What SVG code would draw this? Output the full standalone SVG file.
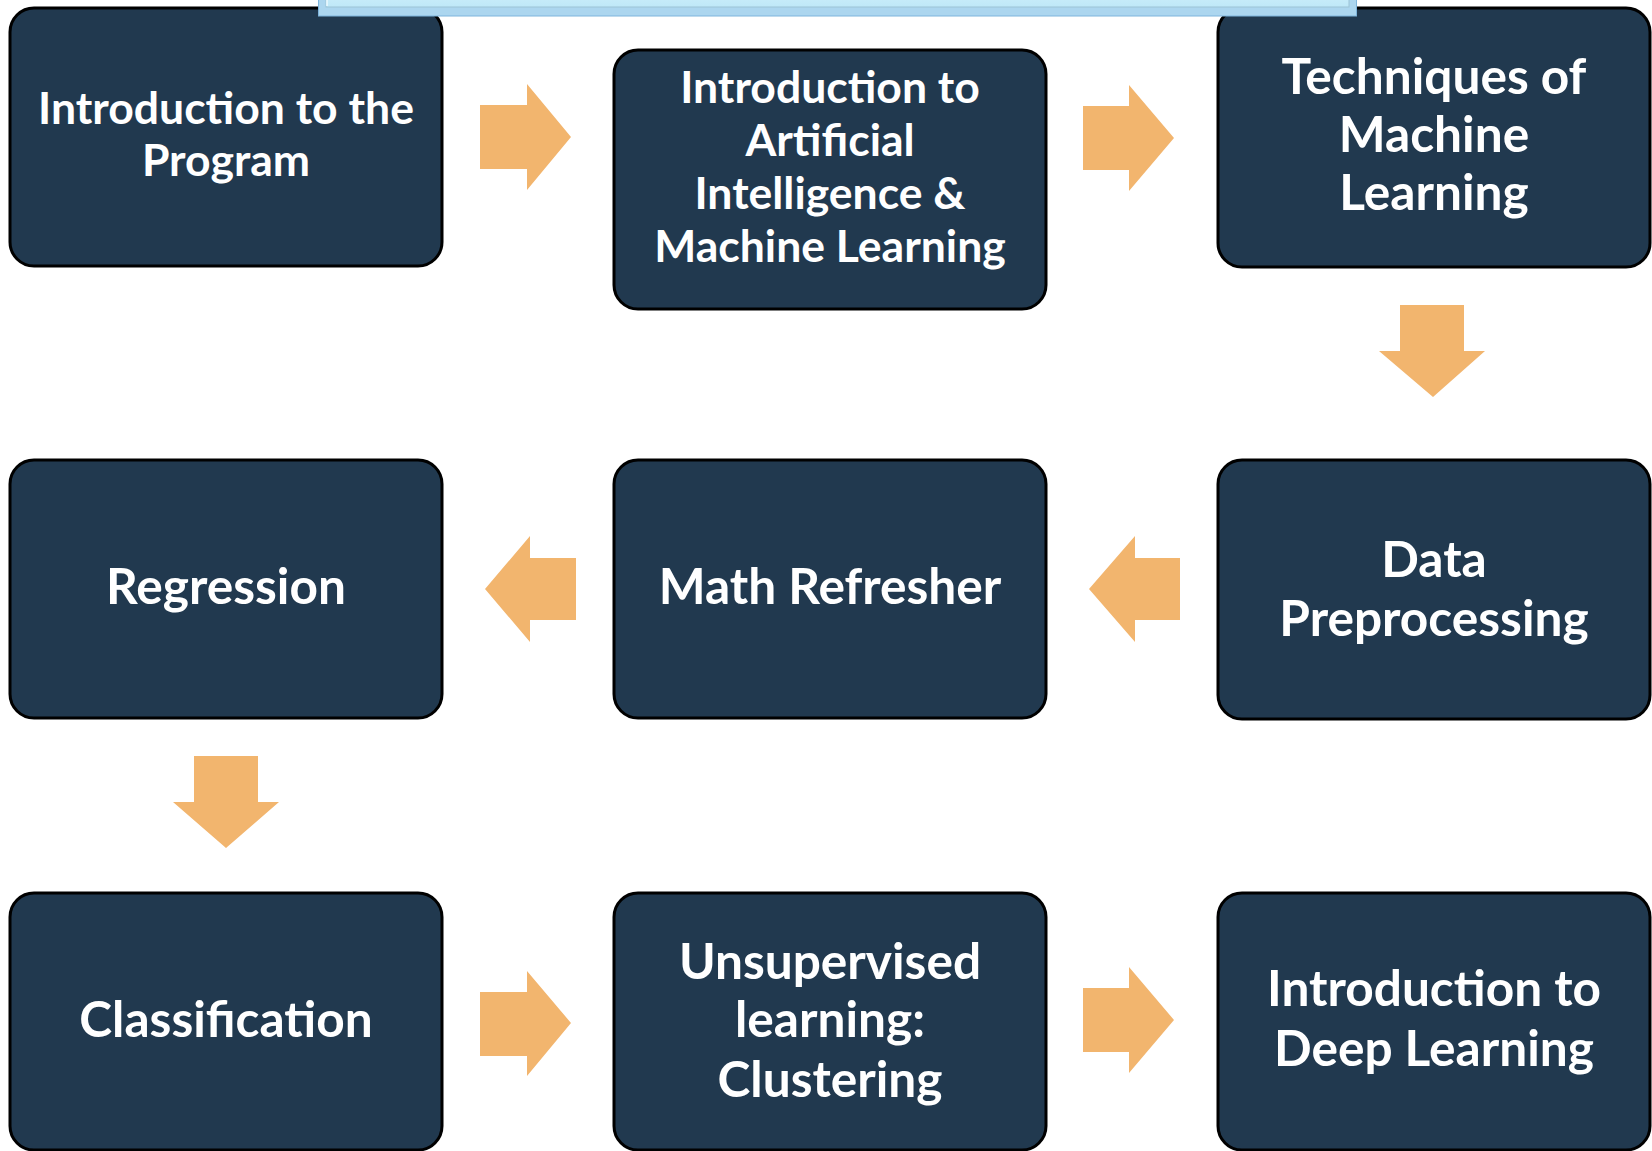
<svg xmlns="http://www.w3.org/2000/svg" width="1652" height="1151" viewBox="0 0 1652 1151">
<defs>
<linearGradient id="panel" x1="0" y1="0" x2="0" y2="1">
<stop offset="0" stop-color="#d8f4fc"/>
<stop offset="1" stop-color="#bfe8f8"/>
</linearGradient>
<style>
.node rect{fill:#21394f;stroke:#000;stroke-width:3}
.node text{fill:#fff;font-family:Lato,"Open Sans",sans-serif;font-weight:700;text-anchor:middle}
.s{font-size:44.5px}
.l{font-size:49.6px}
.arr{fill:#f2b56e}
</style>
</defs>
<rect width="1652" height="1151" fill="#fff"/>
<g id="n1" class="node"><rect x="10" y="8" width="432" height="258" rx="24"/><text class="s"><tspan x="226" y="124">Introduction to the</tspan><tspan x="226" y="176">Program</tspan></text></g>
<g id="n2" class="node"><rect x="614" y="50" width="432" height="259" rx="24"/><text class="s"><tspan x="830" y="102.5">Introduction to</tspan><tspan x="830" y="155.5">Artificial</tspan><tspan x="830" y="208.5">Intelligence &amp;</tspan><tspan x="830" y="261.5">Machine Learning</tspan></text></g>
<g id="n3" class="node"><rect x="1218" y="8" width="432" height="259" rx="24"/><text class="l"><tspan x="1434" y="94">Techniques of</tspan><tspan x="1434" y="152">Machine</tspan><tspan x="1434" y="210">Learning</tspan></text></g>
<g id="n4" class="node"><rect x="1218" y="460" width="432" height="259" rx="24"/><text class="l"><tspan x="1434" y="577">Data</tspan><tspan x="1434" y="636">Preprocessing</tspan></text></g>
<g id="n5" class="node"><rect x="614" y="460" width="432" height="258" rx="24"/><text class="l"><tspan x="830" y="604">Math Refresher</tspan></text></g>
<g id="n6" class="node"><rect x="10" y="460" width="432" height="258" rx="24"/><text class="l"><tspan x="226" y="604">Regression</tspan></text></g>
<g id="n7" class="node"><rect x="10" y="893" width="432" height="257" rx="24"/><text class="l"><tspan x="226" y="1037">Classification</tspan></text></g>
<g id="n8" class="node"><rect x="614" y="893" width="432" height="257" rx="24"/><text class="l"><tspan x="830" y="979">Unsupervised</tspan><tspan x="830" y="1037">learning:</tspan><tspan x="830" y="1097">Clustering</tspan></text></g>
<g id="n9" class="node"><rect x="1218" y="893" width="432" height="257" rx="24"/><text class="l"><tspan x="1434" y="1006">Introduction to</tspan><tspan x="1434" y="1066">Deep Learning</tspan></text></g>
<g id="connectors" class="arr">
<polygon points="480,105 527,105 527,84 571,137 527,190 527,169 480,169"/>
<polygon points="1083,106 1129,106 1129,85 1174,138 1129,191 1129,170 1083,170"/>
<polygon points="1400,305 1464,305 1464,351 1485,351 1433,397 1379,351 1400,351"/>
<polygon points="1180,558 1135,558 1135,536 1089,589 1135,642 1135,620 1180,620"/>
<polygon points="576,558 530,558 530,536 485,589 530,642 530,620 576,620"/>
<polygon points="194,756 258,756 258,802 279,802 226,848 173,802 194,802"/>
<polygon points="480,992 527,992 527,971 571,1023 527,1076 527,1056 480,1056"/>
<polygon points="1083,988 1129,988 1129,967 1174,1020 1129,1073 1129,1052 1083,1052"/>
</g>
<g id="banner">
<rect x="318.5" y="-20" width="1038" height="36" fill="#acd6ef" stroke="#7fb5dc"/>
<rect x="326" y="-20" width="1023" height="27" fill="url(#panel)" stroke="#9cc3d6"/>
<line x1="327" y1="-20" x2="327" y2="6" stroke="#eefaff" stroke-width="1.5"/>
</g>
</svg>
